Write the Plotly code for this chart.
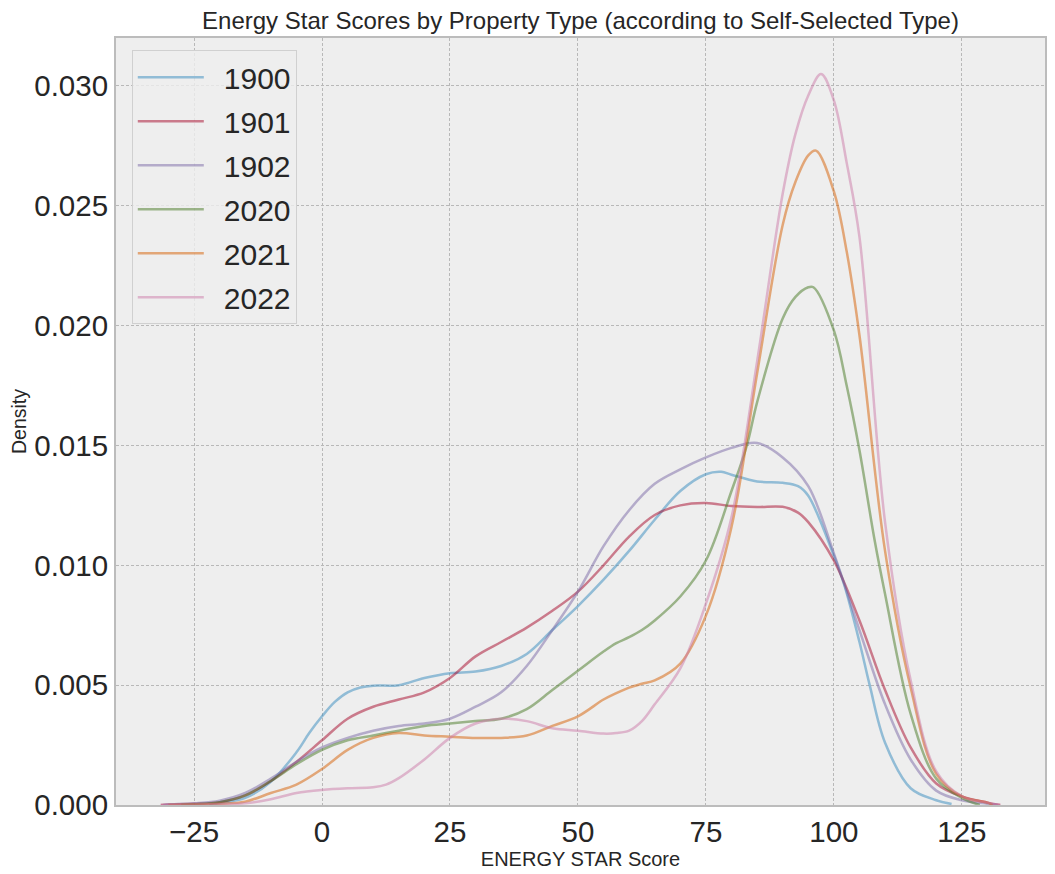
import plotly.graph_objects as go

# --- KDE curves (x = score, y = density) ---
x_1900 = [-22, -20, -15, -10, -5, -2.5, 0, 2.5, 5, 7.5, 10, 15, 20, 25, 30, 35, 40, 45, 50, 55, 60, 65, 70,
          75, 78, 80, 85, 90, 93, 95, 100, 102, 105, 107, 110, 115, 120, 123]
y_1900 = [0.0, 0.00008, 0.0003, 0.00097, 0.0022, 0.0030, 0.0037, 0.0043, 0.0047, 0.0049, 0.00498, 0.0050,
          0.0053, 0.0055, 0.00557, 0.0058, 0.0063, 0.0073, 0.0083, 0.0094, 0.0106, 0.0119, 0.0131, 0.0138,
          0.0139, 0.01378, 0.0135, 0.01344, 0.0133, 0.0129, 0.0104, 0.0092, 0.0068, 0.0050, 0.0026, 0.0007,
          0.0002, 0.00004]

x_1901 = [-31.5, -30, -25, -20, -15, -10, -5, 0, 5, 10, 15, 20, 25, 30, 35, 40, 45, 50, 55, 60, 65, 70, 75,
          80, 85, 90, 93, 95, 100, 105, 110, 115, 120, 125, 130, 132.5]
y_1901 = [0.0, 0.00002, 0.00005, 0.00012, 0.0004, 0.0010, 0.0018, 0.0027, 0.0036, 0.0041, 0.0044, 0.0047,
          0.0053, 0.0062, 0.0068, 0.0074, 0.0081, 0.0089, 0.0100, 0.0112, 0.0121, 0.0125, 0.0126, 0.01247,
          0.01243, 0.01244, 0.0122, 0.0118, 0.0102, 0.0077, 0.0048, 0.0024, 0.0009, 0.00036, 0.0001, 0.0]

x_1902 = [-31, -30, -25, -20, -15, -10, -5, 0, 5, 10, 15, 20, 25, 30, 35, 40, 45, 50, 55, 60, 65, 70, 75,
          80, 85, 90, 95, 100, 105, 110, 115, 120, 125, 130, 132]
y_1902 = [0.0, 0.00002, 0.00007, 0.00018, 0.0005, 0.0011, 0.0018, 0.0024, 0.0028, 0.0031, 0.0033, 0.0034,
          0.0036, 0.0041, 0.0047, 0.0058, 0.0073, 0.0089, 0.0108, 0.0123, 0.0134, 0.0140, 0.0145, 0.0149,
          0.0151, 0.0145, 0.0133, 0.0105, 0.0073, 0.0042, 0.0019, 0.0006, 0.0002, 0.00005, 0.0]

x_2020 = [-27.5, -25, -20, -15, -10, -5, 0, 5, 10, 15, 20, 25, 30, 35, 40, 45, 50, 55, 57.5, 60, 62.5, 65,
          70, 75, 80, 83, 85, 90, 92.5, 95, 96, 100, 102.5, 105, 108, 110, 115, 120, 125, 128.5]
y_2020 = [0.0, 0.00003, 0.00012, 0.0004, 0.001, 0.0017, 0.0023, 0.0027, 0.0029, 0.0031, 0.0033, 0.0034,
          0.0035, 0.0036, 0.0040, 0.0048, 0.0056, 0.0064, 0.00675, 0.0070, 0.0073, 0.0077, 0.0087, 0.0102,
          0.0131, 0.0150, 0.0168, 0.0203, 0.0212, 0.0216, 0.0216, 0.0198, 0.0175, 0.0148, 0.0110, 0.0088,
          0.0038, 0.0011, 0.0003, 0.0]

x_2021 = [-30, -25, -20, -15, -10, -5, 0, 5, 10, 15, 20, 25, 30, 35, 40, 45, 50, 55, 57.5, 60, 62.5, 65,
          70, 75, 80, 85, 90, 92.5, 95, 96.5, 100, 102.5, 105, 110, 115, 120, 125, 130, 131]
y_2021 = [0.0, 0.00002, 0.00005, 0.00014, 0.0005, 0.00085, 0.0015, 0.0023, 0.0028, 0.0030, 0.0029, 0.00285,
          0.0028, 0.0028, 0.0029, 0.0033, 0.0037, 0.0044, 0.00467, 0.0049, 0.00506, 0.0052, 0.0059, 0.0079,
          0.0116, 0.0180, 0.0242, 0.0260, 0.0271, 0.0273, 0.0256, 0.0231, 0.0196, 0.0106, 0.0049, 0.0013,
          0.00036, 0.0001, 0.0]

x_2022 = [-31.5, -25, -20, -15, -10, -5, 0, 5, 10, 12.5, 15, 20, 25, 30, 35, 40, 45, 50, 55, 57.5, 60, 62.5,
          65, 70, 75, 80, 85, 90, 92.5, 95, 97.5, 100, 102.5, 105, 110, 115, 120, 125, 130, 132.5]
y_2022 = [0.0, 0.00002, 0.00004, 0.00007, 0.00024, 0.0005, 0.00063, 0.0007, 0.00074, 0.00085, 0.00112,
          0.0019, 0.0028, 0.0034, 0.0036, 0.0035, 0.0032, 0.0031, 0.00298, 0.0030, 0.0031, 0.0035, 0.0042,
          0.0057, 0.0084, 0.0120, 0.0185, 0.0255, 0.0280, 0.0296, 0.0305, 0.0294, 0.0268, 0.0237, 0.0118,
          0.0052, 0.0014, 0.00036, 0.0001, 0.0]

names = ["1900", "1901", "1902", "2020", "2021", "2022"]
xs = [x_1900, x_1901, x_1902, x_2020, x_2021, x_2022]
ys = [y_1900, y_1901, y_1902, y_2020, y_2021, y_2022]
# bmh palette, drawn at alpha 0.5
colors = ["rgba(52,138,189,0.5)", "rgba(166,6,40,0.5)", "rgba(122,104,166,0.5)",
          "rgba(70,120,33,0.5)", "rgba(213,94,0,0.5)", "rgba(204,121,167,0.5)"]

font = "Liberation Sans, Arial, sans-serif"

fig = go.Figure()
for name, x, y, c in zip(names, xs, ys, colors):
    # en space in front of the label pushes the text away from the legend line, like matplotlib does
    fig.add_trace(go.Scatter(x=x, y=y, name="\u2002" + name, legendgroup=name, mode="lines",
                             line=dict(color=c, width=2.5, shape="spline", smoothing=1.0)))

axis_common = dict(showgrid=True, gridcolor="#b8b8b8", gridwidth=1, griddash="3px,2px",
                   showline=True, linecolor="#bcbcbc", linewidth=2, mirror=True, automargin=False,
                   ticks="", zeroline=False, tickfont=dict(size=29.5, color="#262626", family=font))

fig.update_xaxes(range=[-40.25, 141.25], tick0=0, dtick=25,
                 title=dict(text="ENERGY STAR Score", font=dict(size=20, color="#262626", family=font), standoff=0),
                 **axis_common)
fig.update_yaxes(range=[0, 0.032], tick0=0, dtick=0.005, tickformat=".3f",
                 title=dict(text="Density", font=dict(size=19.5, color="#262626", family=font), standoff=8),
                 **axis_common)

# the page body has an 8px margin, so the figure is sized/offset to land the plot box where the reference has it
fig.update_layout(
    width=1047, height=866,
    margin=dict(l=108, r=10, t=30, b=69),
    paper_bgcolor="white", plot_bgcolor="#eeeeee",
    font=dict(family=font, color="#262626"),
    title=dict(text="Energy Star Scores by Property Type (according to Self-Selected Type)",
               x=0.5, xanchor="center", xref="paper", y=0.986, yanchor="middle",
               font=dict(size=24, color="#262626", family=font)),
    legend=dict(x=0.017, y=0.984, xanchor="left", yanchor="top",
                bgcolor="rgba(238,238,238,0.8)", bordercolor="#d0d0d0", borderwidth=1,
                font=dict(size=30, color="#262626", family=font), itemwidth=66, tracegroupgap=2),
    showlegend=True,
)

fig.write_html("out.html")
